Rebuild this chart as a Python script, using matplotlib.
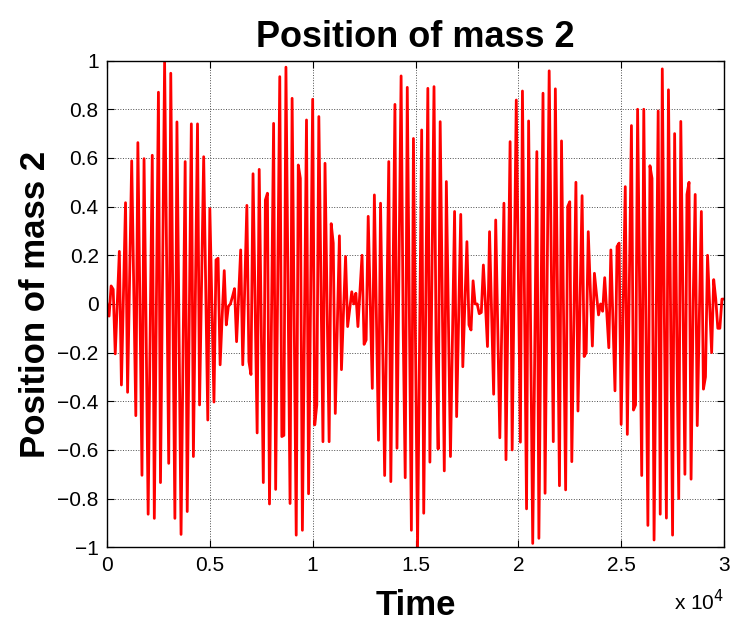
import numpy as np
import matplotlib
matplotlib.use('Agg')
import matplotlib.pyplot as plt

plt.rcParams['font.family'] = ['Liberation Sans', 'DejaVu Sans']

# sample spacing of the simulation (time units)
dt = 100

# position of mass 2, one value per sample (t = 0, 100, ..., 30000)
position = [
    0.0, -0.05, 0.074, 0.06, -0.205, 0.0, 0.216, -0.333, 0.04, 0.416,
    -0.363, 0.1, 0.588, 0.06, -0.459, 0.663, 0.0, -0.704, 0.597, -0.1,
    -0.864, -0.1, 0.611, -0.881, 0.0, 0.87, -0.734, 0.1, 0.994, 0.15,
    -0.655, 0.948, 0.0, -0.881, 0.748, -0.1, -0.947, -0.2, 0.585, -0.853,
    -0.05, 0.74, -0.627, 0.05, 0.74, -0.415, 0.1, 0.605, 0.05, -0.477,
    0.392, 0.0, -0.403, 0.181, 0.188, -0.25, -0.05, 0.137, -0.086, -0.01,
    0.0, 0.03, 0.063, -0.155, 0.03, 0.222, -0.25, 0.08, 0.405, -0.237,
    -0.29, 0.535, 0.0, -0.53, 0.553, -0.09, -0.734, 0.427, 0.455, -0.822,
    -0.04, 0.742, -0.762, 0.09, 0.934, -0.545, -0.54, 0.973, 0.08, -0.82,
    0.845, -0.05, -0.95, 0.571, 0.516, -0.93, -0.09, 0.756, -0.78, 0.03,
    0.841, -0.497, -0.415, 0.77, 0.1, -0.566, 0.578, 0.0, -0.566, 0.33,
    0.25, -0.45, -0.08, 0.28, -0.27, -0.03, 0.195, -0.093, -0.02, 0.05,
    0.0, 0.044, -0.093, 0.05, 0.2, -0.166, -0.148, 0.36, 0.0, -0.347,
    0.448, -0.05, -0.56, 0.414, -0.15, -0.705, -0.06, 0.585, -0.73, 0.04,
    0.82, -0.593, 0.17, 0.937, -0.1, -0.714, 0.89, -0.02, -0.93, 0.68,
    -0.16, -1.0, -0.14, 0.715, -0.86, 0.01, 0.886, -0.65, 0.12, 0.893,
    -0.15, -0.596, 0.749, 0.03, -0.686, 0.503, -0.06, -0.627, -0.12, 0.38,
    -0.463, -0.05, 0.368, -0.258, 0.0, 0.256, -0.086, -0.107, 0.095, 0.0,
    0.0, -0.04, -0.035, 0.16, 0.0, -0.175, 0.297, -0.04, -0.371, 0.345,
    -0.1, -0.55, -0.07, 0.414, -0.64, 0.0, 0.667, -0.6, 0.12, 0.838,
    0.13, -0.568, 0.875, 0.0, -0.842, 0.752, -0.12, -0.984, -0.18, 0.626,
    -0.963, -0.05, 0.866, -0.778, 0.09, 0.958, 0.2, -0.566, 0.884, 0.07,
    -0.747, 0.67, -0.05, -0.764, 0.4, 0.42, -0.648, -0.07, 0.5, -0.44,
    0.0, 0.445, -0.216, -0.2, 0.297, 0.06, -0.173, 0.126, 0.04, -0.045,
    0.0, -0.03, 0.108, -0.04, -0.18, 0.222, -0.07, -0.357, 0.236, 0.25,
    -0.495, -0.005, 0.482, -0.536, 0.1, 0.733, -0.436, -0.415, 0.8, 0.05,
    -0.705, 0.8, -0.05, -0.91, 0.568, 0.516, -0.97, -0.09, 0.793, -0.864,
    0.966, -0.05, -0.88, 0.88, 0.0, -0.95, 0.7, -0.1, -0.8, 0.75,
    0.05, -0.7, 0.45, 0.5, -0.72, 0.0, 0.45, -0.5, -0.05, 0.38,
    -0.35, -0.3, 0.2, 0.0, -0.2, 0.1, 0.02, -0.1, -0.1, 0.02,
    0.02,
]

xtick_vals = [0, 5000, 10000, 15000, 20000, 25000, 30000]
xtick_labels = ['0', '0.5', '1', '1.5', '2', '2.5', '3']
ytick_vals = [-1, -0.8, -0.6, -0.4, -0.2, 0, 0.2, 0.4, 0.6, 0.8, 1]
ytick_labels = ['\u22121', '\u22120.8', '\u22120.6', '\u22120.4', '\u22120.2', '0',
                '0.2', '0.4', '0.6', '0.8', '1']

t = np.arange(len(position)) * dt

fig = plt.figure(figsize=(7.31, 6.24), dpi=100)
ax = fig.add_axes([0.1464, 0.1229, 0.844, 0.780])

ax.plot(t, position, color='#ff0000', linewidth=2)

ax.set_xlim(0, 30000)
ax.set_ylim(-1, 1)
ax.set_xticks(xtick_vals)
ax.set_xticklabels(xtick_labels)
ax.set_yticks(ytick_vals)
ax.set_yticklabels(ytick_labels)
ax.tick_params(direction='in', top=True, right=True, labelsize=15, length=5, pad=6)

ax.grid(True, linestyle=':', color='black', linewidth=0.7, alpha=0.7)
for s in ax.spines.values():
    s.set_linewidth(1.0)

ax.set_title('Position of mass 2', fontsize=26, fontweight='bold', pad=10)
ax.set_xlabel('Time', fontsize=25, fontweight='bold', labelpad=10)
ax.set_ylabel('Position of mass 2', fontsize=25, fontweight='bold', labelpad=4)

ax.text(1.0, -0.085, 'x 10$^{4}$', transform=ax.transAxes, ha='right', va='top', fontsize=15)

fig.savefig('out.png', dpi=100)
